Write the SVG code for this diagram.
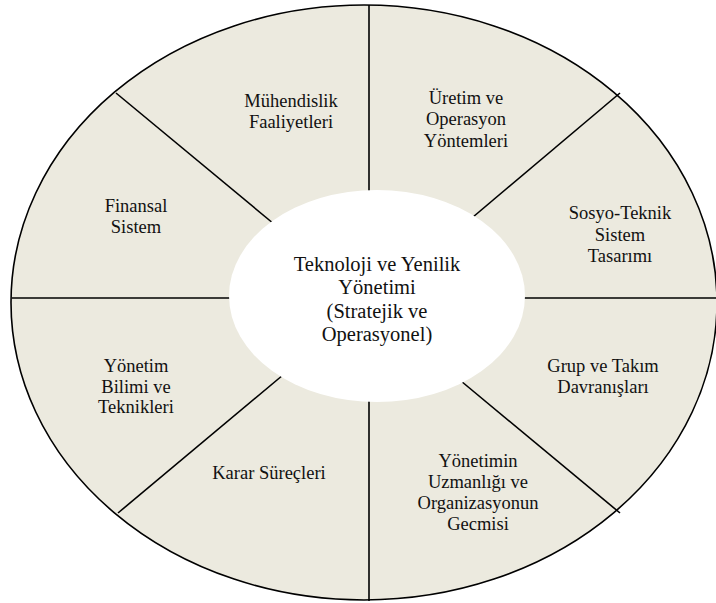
<svg xmlns="http://www.w3.org/2000/svg" width="716" height="603" viewBox="0 0 716 603">
<style>
.bg{fill:#ECEADF;stroke:#000;stroke-width:1.6}
.ln{stroke:#000;stroke-width:1.6;fill:none}
.core{fill:#fff;stroke:none}
.t{font-family:'Liberation Serif','DejaVu Serif',serif;fill:#111;text-anchor:middle}
.lb{font-size:18.5px}
.ct{font-size:20.5px}
</style>
<g id="wheel">
<ellipse class="bg" cx="364" cy="302.5" rx="353" ry="297.5"/>
</g>
<g id="connectors">
<line class="ln" x1="369" y1="5" x2="369" y2="192"/>
<line class="ln" x1="369" y1="400" x2="369" y2="601"/>
<line class="ln" x1="12" y1="298" x2="232" y2="298"/>
<line class="ln" x1="522" y1="298" x2="716" y2="298"/>
<line class="ln" x1="116" y1="93" x2="274" y2="224"/>
<line class="ln" x1="620" y1="93" x2="473" y2="217"/>
<line class="ln" x1="118" y1="513" x2="283" y2="375"/>
<line class="ln" x1="620" y1="513" x2="461" y2="381"/>
</g>
<g id="center" class="t" font-family="Liberation Serif, serif">
<ellipse class="core" cx="377" cy="296" rx="148" ry="106"/>
<text class="t ct" x="377" y="271">Teknoloji ve Yenilik</text>
<text class="t ct" x="377" y="294">Yönetimi</text>
<text class="t ct" x="377" y="318">(Stratejik ve</text>
<text class="t ct" x="377" y="341">Operasyonel)</text>
</g>
<g id="muhendislik">
<text class="t lb" x="291" y="107">Mühendislik</text>
<text class="t lb" x="291" y="128">Faaliyetleri</text>
</g>
<g id="uretim">
<text class="t lb" x="466" y="104">Üretim ve</text>
<text class="t lb" x="466" y="125">Operasyon</text>
<text class="t lb" x="466" y="147">Yöntemleri</text>
</g>
<g id="sosyoteknik">
<text class="t lb" x="620" y="219">Sosyo-Teknik</text>
<text class="t lb" x="620" y="241">Sistem</text>
<text class="t lb" x="620" y="262">Tasarımı</text>
</g>
<g id="grup">
<text class="t lb" x="603" y="372">Grup ve Takım</text>
<text class="t lb" x="603" y="393">Davranışları</text>
</g>
<g id="uzmanlik">
<text class="t lb" x="478" y="467">Yönetimin</text>
<text class="t lb" x="478" y="488">Uzmanlığı ve</text>
<text class="t lb" x="478" y="509">Organizasyonun</text>
<text class="t lb" x="478" y="530">Gecmisi</text>
</g>
<g id="karar">
<text class="t lb" x="269" y="479">Karar Süreçleri</text>
</g>
<g id="yonetimbilimi">
<text class="t lb" x="136" y="372">Yönetim</text>
<text class="t lb" x="136" y="393">Bilimi ve</text>
<text class="t lb" x="136" y="413">Teknikleri</text>
</g>
<g id="finansal">
<text class="t lb" x="136" y="212">Finansal</text>
<text class="t lb" x="136" y="233">Sistem</text>
</g>
</svg>
